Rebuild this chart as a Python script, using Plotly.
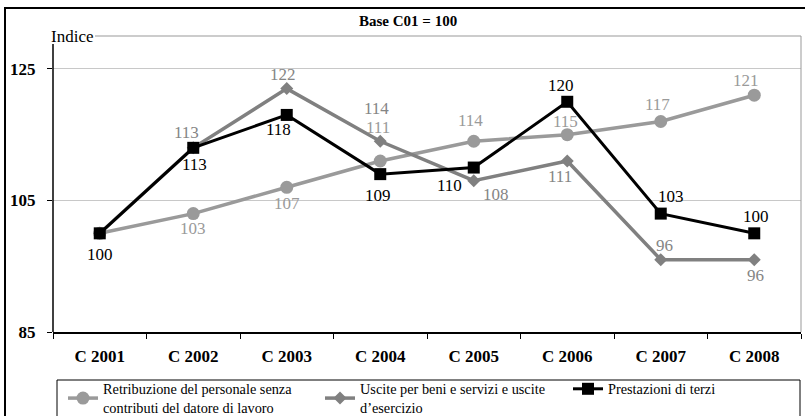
import plotly.graph_objects as go

categories = ["C 2001", "C 2002", "C 2003", "C 2004", "C 2005", "C 2006", "C 2007", "C 2008"]
retribuzione = [100, 103, 107, 111, 114, 115, 117, 121]
uscite = [100, 113, 122, 114, 108, 111, 96, 96]
prestazioni = [100, 113, 118, 109, 110, 120, 103, 100]

names = [
    "Retribuzione del personale senza<br>contributi del datore di lavoro",
    "Uscite per beni e servizi e uscite<br>d\u2019esercizio",
    "Prestazioni di terzi",
]
y_ticks = [85, 105, 125]

# label offsets (px) per point: (dx, dy up-positive); None = no label
off_retr = [None, (0, -15), (0, -16), (-2, 33), (-3, 21), (-2, 13), (-3, 17), (-8, 15)]
off_usc = [None, (-7, 15), (-4, 14), (-4, 33), (22, -14), (-7, -16), (4, 14), (1, -16)]
off_pres = [(0, -21), (1, -17), (-8, -15), (-2, -21), (-24, -18), (-6, 16), (10, 17), (2, 17)]

FONT = "Liberation Serif"
C_RETR = "#9a9a9a"
C_USC = "#808080"
C_PRES = "#000000"

fig = go.Figure()
fig.add_trace(go.Scatter(x=categories, y=retribuzione, name=names[0], mode="lines+markers",
                         line=dict(color=C_RETR, width=3.5),
                         marker=dict(symbol="circle", size=13, color=C_RETR), legend="legend"))
fig.add_trace(go.Scatter(x=categories, y=uscite, name=names[1], mode="lines+markers",
                         line=dict(color=C_USC, width=3.5),
                         marker=dict(symbol="diamond", size=10, color=C_USC), legend="legend2"))
fig.add_trace(go.Scatter(x=categories, y=prestazioni, name=names[2], mode="lines+markers",
                         line=dict(color=C_PRES, width=3),
                         marker=dict(symbol="square", size=12, color=C_PRES), legend="legend3"))

annotations = []
for vals, offs, col in [(retribuzione, off_retr, C_RETR), (uscite, off_usc, "#858585"), (prestazioni, off_pres, C_PRES)]:
    for c, v, o in zip(categories, vals, offs):
        if o is None:
            continue
        annotations.append(dict(x=c, y=v, text=str(v), showarrow=False, xshift=o[0], yshift=o[1],
                                font=dict(family=FONT, size=17, color=col)))

W, H = 805, 416
L, R, T, B = 53, 4, 36, 84
pw, ph = W - L - R, H - T - B


def px(x):
    return (x - L) / pw


def py(y):
    return (H - B - y) / ph


annotations.append(dict(xref="paper", yref="paper", x=px(408), y=py(21), text="<b>Base C01 = 100</b>",
                        showarrow=False, xanchor="center", yanchor="middle",
                        font=dict(family=FONT, size=15, color="black")))
annotations.append(dict(xref="paper", yref="paper", x=px(49), y=py(36), text="Indice",
                        showarrow=False, xanchor="left", yanchor="middle",
                        font=dict(family=FONT, size=17, color="black")))

shapes = [
    dict(type="line", xref="paper", yref="paper", x0=px(95), x1=1, y0=1, y1=1, line=dict(color="#999999", width=1)),
    dict(type="line", xref="paper", yref="paper", x0=1, x1=1, y0=0, y1=1, line=dict(color="#999999", width=1)),
    dict(type="line", xref="paper", yref="paper", x0=0, x1=0, y0=0, y1=py(44), line=dict(color="black", width=1.5)),
    dict(type="rect", xref="paper", yref="paper", x0=px(5), x1=px(830), y0=py(8), y1=py(440),
         line=dict(color="black", width=2), layer="below"),
    dict(type="rect", xref="paper", yref="paper", x0=px(57), x1=px(800), y0=py(380), y1=py(440),
         line=dict(color="black", width=1)),
]

leg_common = dict(orientation="h", xref="paper", yref="paper", yanchor="top", xanchor="left",
                  bgcolor="rgba(0,0,0,0)", borderwidth=0, font=dict(family=FONT, size=14.3, color="black"),
                  itemwidth=30)

fig.update_layout(
    width=W, height=H,
    margin=dict(l=L, r=R, t=T, b=B, autoexpand=False),
    paper_bgcolor="white", plot_bgcolor="white",
    font=dict(family=FONT, color="black"),
    showlegend=True,
    legend=dict(x=px(63), y=py(373), **leg_common),
    legend2=dict(x=px(320), y=py(373), **leg_common),
    legend3=dict(x=px(568), y=py(373), **leg_common),
    xaxis=dict(type="category", range=[-0.5, 7.5], tickson="boundaries", ticks="outside", ticklen=5,
               tickcolor="black", showline=True, linecolor="black", linewidth=1.5, showgrid=False,
               tickfont=dict(family=FONT, size=17, color="black", weight="bold"), ticklabelstandoff=8,
               zeroline=False),
    yaxis=dict(range=[85, 130], tickvals=y_ticks, ticks="outside", ticklen=5, tickcolor="black",
               showline=False, showgrid=True, gridcolor="#c8c8c8", gridwidth=1, zeroline=False,
               tickfont=dict(family=FONT, size=17, color="black", weight="bold"), ticklabelstandoff=8),
    annotations=annotations,
    shapes=shapes,
)

fig.write_html("out.html", config={"displayModeBar": False},
               post_script="document.body.style.margin='0';document.body.style.overflow='hidden';")
